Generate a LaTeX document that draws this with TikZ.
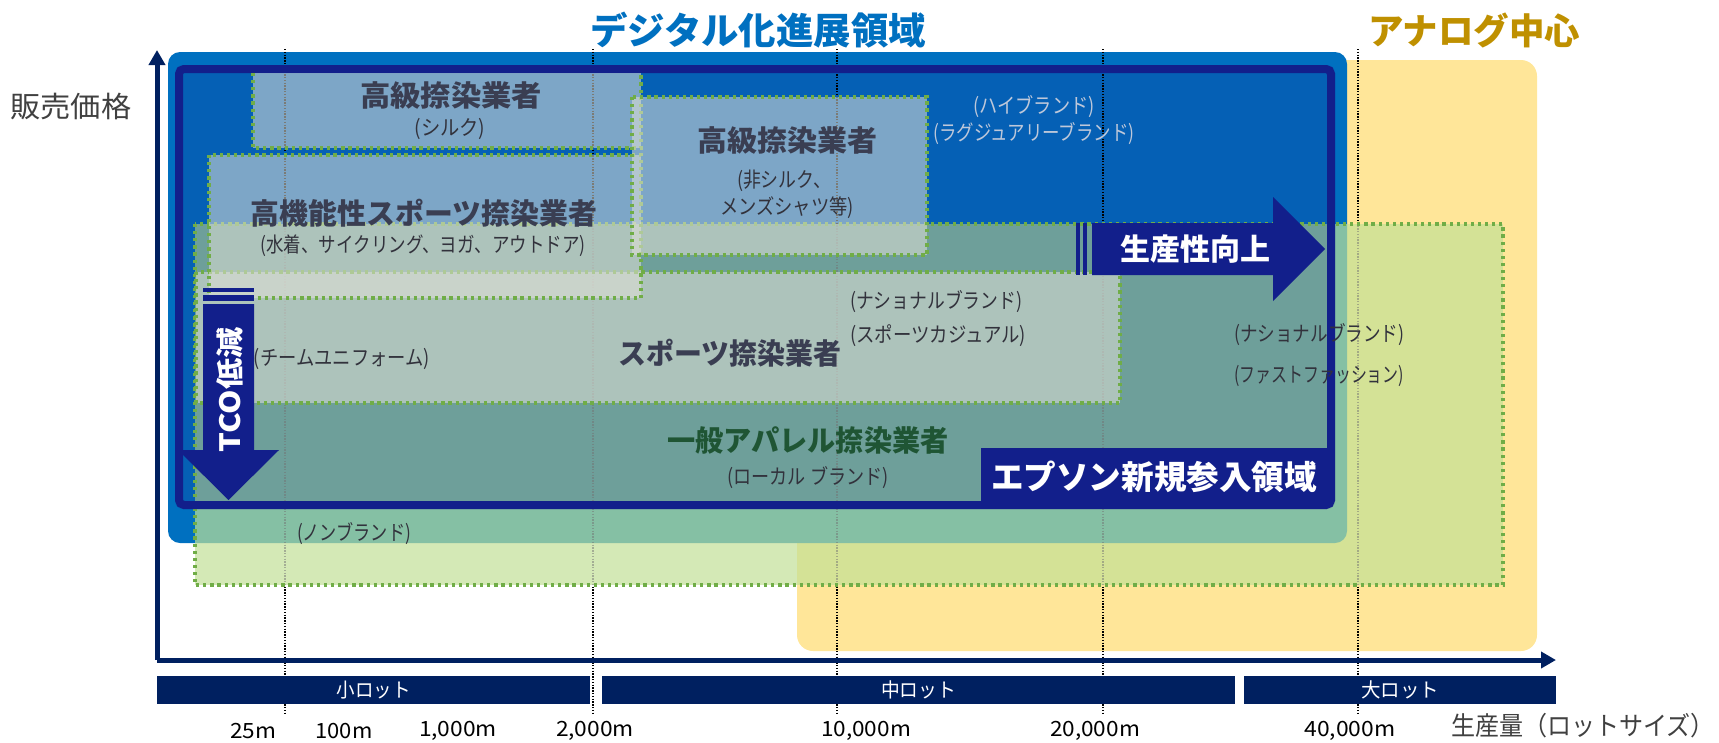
\documentclass[tikz,border=0pt]{standalone}
\usepackage{fontspec}
\setmainfont{Noto Sans CJK JP}
\usepackage{graphicx}
\usetikzlibrary{arrows.meta}
\definecolor{axisnavy}{RGB}{0,32,96}
\definecolor{navy}{RGB}{18,31,139}
\definecolor{bluo}{RGB}{0,112,192}
\definecolor{blui}{RGB}{5,96,181}
\definecolor{yel}{RGB}{255,230,153}
\definecolor{gold}{RGB}{191,144,0}
\definecolor{gw}{RGB}{212,233,182}
\definecolor{gy}{RGB}{212,226,150}
\definecolor{gb}{RGB}{133,192,164}
\definecolor{tealc}{RGB}{110,159,154}
\definecolor{gdot}{RGB}{112,173,71}
\definecolor{catfill}{RGB}{225,225,215}
\definecolor{labc}{RGB}{58,62,82}
\definecolor{subc}{RGB}{50,50,60}
\definecolor{subl}{RGB}{190,200,218}
\definecolor{darkg}{RGB}{31,85,52}
\definecolor{axtxt}{RGB}{64,64,64}
\newcommand{\fw}[2]{\resizebox{#1pt}{\height}{#2}}
\begin{document}
\begin{tikzpicture}[x=1pt,y=-1pt,
  vline/.style={black, line width=1.3pt, dash pattern=on 1.3pt off 1.5pt},
  vlinefade/.style={black!55, line width=1.3pt, dash pattern=on 1.3pt off 1.5pt, draw opacity=0.5},
  gdots/.style={draw=gdot, line width=3.3pt, dash pattern=on 3.2pt off 3.9pt},
  cat/.style={fill=catfill, fill opacity=0.55},
  lbl/.style={inner sep=0pt, text=labc, font=\fontsize{29}{34}\selectfont\bfseries},
  sub/.style={inner sep=0pt, text=subc, font=\fontsize{21}{25}\selectfont},
  subw/.style={inner sep=0pt, text=subl, font=\fontsize{21}{25}\selectfont},
  tick/.style={inner sep=0pt, text=black, font=\fontsize{21}{25}\selectfont},
  lot/.style={fill=axisnavy, inner sep=0pt, minimum height=28pt, text=white, font=\fontsize{20}{24}\selectfont},
  wlab/.style={inner sep=0pt, text=white, font=\fontsize{30}{34}\selectfont\bfseries},
  axis/.style={axisnavy, line width=5pt, -{Triangle[width=16pt,length=15pt]}}
]
\useasboundingbox (0,0) rectangle (1719,742);

% big regions
\fill[yel, rounded corners=16pt] (797,60) rectangle (1537,651);
\fill[bluo, rounded corners=12pt] (168,52) rectangle (1347,543);
\fill[blui, rounded corners=8pt] (175,65) rectangle (1335,509);

% vertical dotted guide lines
\foreach \x/\n in {285/a,593/b,837/c,1103/d,1358/e}{
  \coordinate (vt\n) at (\x,49);
  \coordinate (vb\n) at (\x,715);
  \draw[vline] (vt\n) -- (vb\n);
}

% green (national/non-brand) region
\fill[gw] (195,224) rectangle (1503,585);
\begin{scope}
  \clip[rounded corners=16pt] (797,60) rectangle (1537,651);
  \fill[gy] (195,224) rectangle (1503,585);
\end{scope}
\begin{scope}
  \clip[rounded corners=12pt] (168,52) rectangle (1347,543);
  \fill[gb] (195,224) rectangle (1503,585);
\end{scope}
\begin{scope}
  \clip[rounded corners=8pt] (175,65) rectangle (1335,509);
  \fill[tealc] (195,224) rectangle (1503,585);
\end{scope}
\begin{scope}
  \clip (195,224) rectangle (1503,585);
  \foreach \n in {a,b,c,d,e}{ \draw[vlinefade] (vt\n) -- (vb\n); }
\end{scope}
\draw[gdots] (195,224) rectangle (1503,585);

% navy frame
\draw[navy, line width=8pt, rounded corners=5pt] (179,69) rectangle (1331,505);

% category boxes
\fill[cat] (196,272) rectangle (1120,403);
\draw[gdots] (196,272) rectangle (1120,403);
\fill[cat] (253,73) rectangle (641,148);
\draw[gdots] (253,73) -- (253,148) -- (641,148) -- (641,73);
\fill[cat] (209,155) rectangle (641,298);
\draw[gdots] (209,155) rectangle (641,298);
\fill[cat] (632,97) rectangle (927,255);
\draw[gdots] (632,97) rectangle (927,255);

% label box
\fill[navy] (981,448) rectangle (1331,505);

% arrows
\fill[navy] (1076,223) rectangle (1080,275);
\fill[navy] (1083,223) rectangle (1087,275);
\fill[navy] (1092,223) -- (1273,223) -- (1273,197) -- (1325,249) -- (1273,301) -- (1273,275) -- (1092,275) -- cycle;
\fill[navy] (203,288) rectangle (254,292);
\fill[navy] (203,295) rectangle (254,301);
\fill[navy] (203,304) -- (254,304) -- (254,450) -- (279,450) -- (228.5,500) -- (178,450) -- (203,450) -- cycle;

% axes
\coordinate (O) at (157,660);
\coordinate (ytop) at (157,50);
\coordinate (xend) at (1556,660);
\draw[axis] (O) -- (ytop);
\draw[axis] (O) -- (xend);

% lot boxes
\node[lot, minimum width=433pt] (lot1) at (373.5,690) {\fw{74}{小ロット}};
\node[lot, minimum width=633pt] (lot2) at (918.5,690) {\fw{75}{中ロット}};
\node[lot, minimum width=312pt] (lot3) at (1400,690) {\fw{78}{大ロット}};

% tick labels
\node[tick] (t1) at (253,731) {\fw{46}{25m}};
\node[tick] (t2) at (344,731) {\fw{57}{100m}};
\node[tick] (t3) at (458,731) {\fw{78}{1,000m}};
\node[tick] (t4) at (595,731) {\fw{78}{2,000m}};
\node[tick] (t5) at (866,731) {\fw{90}{10,000m}};
\node[tick] (t6) at (1095,731) {\fw{90}{20,000m}};
\node[tick] (t7) at (1350,731) {\fw{91}{40,000m}};

% titles and axis labels
\node[inner sep=0pt, text=bluo, font=\fontsize{37}{40}\selectfont\bfseries] (ttl1) at (758,30) {\fw{336}{デジタル化進展領域}};
\node[inner sep=0pt, text=gold, font=\fontsize{36}{40}\selectfont\bfseries] (ttl2) at (1474,30) {\fw{212}{アナログ中心}};
\node[inner sep=0pt, text=axtxt, font=\fontsize{29}{32}\selectfont] (ylab) at (71,107) {\fw{121}{販売価格}};
\node[inner sep=0pt, text=axtxt, font=\fontsize{26}{30}\selectfont] (xlab) at (1583,726) {\fw{264}{生産量（ロットサイズ）}};

% category labels
\node[lbl] (a1) at (451,95) {\fw{182}{高級捺染業者}};
\node[sub] (a2) at (450,129) {\fw{71}{(シルク)}};
\node[lbl] (b1) at (424,213) {\fw{346}{高機能性スポーツ捺染業者}};
\node[sub] (b2) at (423,246) {\fw{325}{(水着、サイクリング、ヨガ、アウトドア)}};
\node[lbl] (c1) at (787,140) {\fw{180}{高級捺染業者}};
\node[sub] (c2) at (784,181) {\fw{94}{(非シルク、}};
\node[sub] (c3) at (787,208) {\fw{134}{メンズシャツ等)}};
\node[subw] (h1) at (1034,107) {\fw{121}{(ハイブランド)}};
\node[subw] (h2) at (1034,134) {\fw{201}{(ラグジュアリーブランド)}};
\node[lbl] (d1) at (730,353) {\fw{223}{スポーツ捺染業者}};
\node[sub, anchor=west] (d2) at (850,302) {\fw{172}{(ナショナルブランド)}};
\node[sub, anchor=west] (d3) at (850,336) {\fw{176}{(スポーツカジュアル)}};
\node[sub] (e1) at (342,359) {\fw{176}{(チームユニフォーム)}};
\node[lbl, text=darkg] (f1) at (808,440) {\fw{281}{一般アパレル捺染業者}};
\node[sub] (f2) at (808,478) {\fw{161}{(ローカル ブランド)}};
\node[sub, anchor=west] (g1) at (1234,335) {\fw{170}{(ナショナルブランド)}};
\node[sub, anchor=west] (g2) at (1234,376) {\fw{170}{(ファストファッション)}};
\node[sub] (n1) at (354,534) {\fw{114}{(ノンブランド)}};

% white labels
\node[wlab] (prod) at (1195,249) {\fw{150}{生産性向上}};
\node[wlab, rotate=90, font=\fontsize{28}{32}\selectfont\bfseries] (tco) at (229.5,390) {\fw{125}{TCO低減}};
\node[wlab, font=\fontsize{33}{36}\selectfont\bfseries] (epson) at (1154,477) {\fw{326}{エプソン新規参入領域}};
\end{tikzpicture}
\end{document}
